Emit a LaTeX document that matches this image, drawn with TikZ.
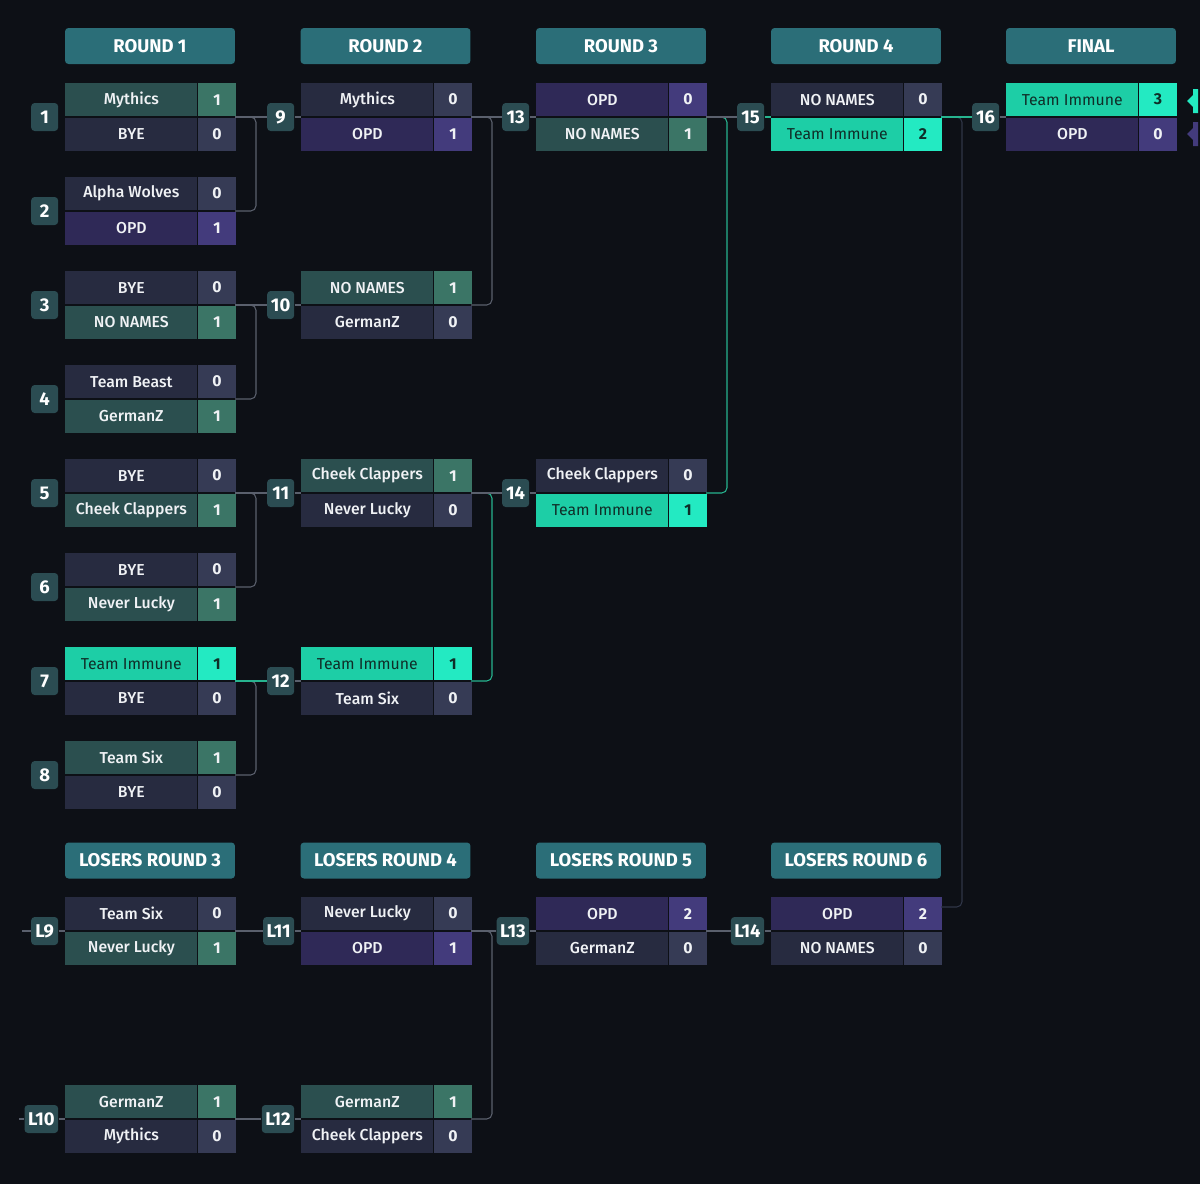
\documentclass[tikz,border=0pt]{standalone}
\usepackage{fontspec}
\setmainfont{Fira Sans}
\newfontfamily\medfont{Fira Sans Medium}
\usetikzlibrary{calc}

\definecolor{bgc}{HTML}{0D1016}
\definecolor{headc}{HTML}{2B6E78}
\definecolor{numc}{HTML}{2B4C52}
\definecolor{textc}{HTML}{F0F2F5}
\definecolor{losea}{HTML}{272B40}
\definecolor{loseb}{HTML}{363B55}
\definecolor{wina}{HTML}{2B4F4F}
\definecolor{winb}{HTML}{3B7566}
\definecolor{opda}{HTML}{2F2957}
\definecolor{opdb}{HTML}{433B7C}
\definecolor{imma}{HTML}{1DCEA6}
\definecolor{immb}{HTML}{23EAC2}
\definecolor{immtext}{HTML}{0F2E28}
\definecolor{linkc}{HTML}{5A606D}
\definecolor{hotc}{HTML}{27B48F}
\definecolor{dimc}{HTML}{2F3547}

\tikzset{
  head/.style={fill=headc, text=white, font=\bfseries\fontsize{10.5}{12}\selectfont,
    minimum width=3.4cm, minimum height=0.72cm, inner sep=0pt, rounded corners=2pt},
  num/.style={fill=numc, text=white, font=\bfseries\fontsize{10.5}{12}\selectfont,
    minimum width=0.54cm, minimum height=0.56cm, inner sep=2pt, rounded corners=2pt, anchor=east},
  tname/.style={minimum width=2.64cm, minimum height=0.66cm, inner sep=0pt,
    text=textc, font=\medfont\fontsize{9}{10}\selectfont},
  tscore/.style={minimum width=0.76cm, minimum height=0.66cm, inner sep=0pt,
    text=textc, font=\bfseries\fontsize{9}{10}\selectfont},
  lose/.style={fill=losea}, lose score/.style={fill=loseb},
  win/.style={fill=wina}, win score/.style={fill=winb},
  opd/.style={fill=opda}, opd score/.style={fill=opdb},
  imm/.style={fill=imma, text=immtext, font=\fontsize{9}{10}\selectfont},
  imm score/.style={fill=immb, text=immtext},
  link/.style={draw=linkc, line width=0.6pt, rounded corners=3pt},
  hot/.style={link, draw=hotc},
  dim/.style={link, draw=dimc},
}

% #1 id, #2 left-centre point, #3 number, #4-#6 top row, #7-#9 bottom row
\newcommand\match[9]{%
  \node[tname,#4,anchor=south west] (#1-a) at ($#2+(0,-0.5)$) {#5};
  \node[tscore,#4 score,anchor=west] (#1-as) at (#1-a.east) {#6};
  \node[tname,#7,anchor=north west] (#1-b) at ($#2+(0,0.5)$) {#8};
  \node[tscore,#7 score,anchor=west] (#1-bs) at (#1-b.east) {#9};
  \node[num] (#1-n) at ($#2+(-6.5,0)$) {#3};
  \coordinate (#1) at ($#2+(170,0)$);
}

\begin{document}
\begin{tikzpicture}[x=0.02cm, y=-0.02cm]
  \fill[bgc] (0,0) rectangle (1200,1184);

  % headers
  \node[head] (h1) at (150,46) {ROUND 1};
  \node[head] (h2) at (385.5,46) {ROUND 2};
  \node[head] (h3) at (621,46) {ROUND 3};
  \node[head] (h4) at (856,46) {ROUND 4};
  \node[head] (h5) at (1091,46) {FINAL};
  \node[head] (lh1) at (150,860.5) {LOSERS ROUND 3};
  \node[head] (lh2) at (385.5,860.5) {LOSERS ROUND 4};
  \node[head] (lh3) at (621,860.5) {LOSERS ROUND 5};
  \node[head] (lh4) at (856,860.5) {LOSERS ROUND 6};

  % round 1
  \match{m1}{(65,117)}{1}{win}{Mythics}{1}{lose}{BYE}{0}
  \match{m2}{(65,211)}{2}{lose}{Alpha Wolves}{0}{opd}{OPD}{1}
  \match{m3}{(65,305)}{3}{lose}{BYE}{0}{win}{NO NAMES}{1}
  \match{m4}{(65,399)}{4}{lose}{Team Beast}{0}{win}{GermanZ}{1}
  \match{m5}{(65,493)}{5}{lose}{BYE}{0}{win}{Cheek Clappers}{1}
  \match{m6}{(65,587)}{6}{lose}{BYE}{0}{win}{Never Lucky}{1}
  \match{m7}{(65,681)}{7}{imm}{Team Immune}{1}{lose}{BYE}{0}
  \match{m8}{(65,775)}{8}{win}{Team Six}{1}{lose}{BYE}{0}
  % round 2
  \match{m9}{(301,117)}{9}{lose}{Mythics}{0}{opd}{OPD}{1}
  \match{m10}{(301,305)}{10}{win}{NO NAMES}{1}{lose}{GermanZ}{0}
  \match{m11}{(301,493)}{11}{win}{Cheek Clappers}{1}{lose}{Never Lucky}{0}
  \match{m12}{(301,681)}{12}{imm}{Team Immune}{1}{lose}{Team Six}{0}
  % round 3, 4, final
  \match{m13}{(536,117)}{13}{opd}{OPD}{0}{win}{NO NAMES}{1}
  \match{m14}{(536,493)}{14}{lose}{Cheek Clappers}{0}{imm}{Team Immune}{1}
  \match{m15}{(771,117)}{15}{lose}{NO NAMES}{0}{imm}{Team Immune}{2}
  \match{m16}{(1006,117)}{16}{imm}{Team Immune}{3}{opd}{OPD}{0}
  % losers bracket
  \match{l9}{(65,931)}{L9}{lose}{Team Six}{0}{win}{Never Lucky}{1}
  \match{l10}{(65,1119)}{L10}{win}{GermanZ}{1}{lose}{Mythics}{0}
  \match{l11}{(301,931)}{L11}{lose}{Never Lucky}{0}{opd}{OPD}{1}
  \match{l12}{(301,1119)}{L12}{win}{GermanZ}{1}{lose}{Cheek Clappers}{0}
  \match{l13}{(536,931)}{L13}{opd}{OPD}{2}{lose}{GermanZ}{0}
  \match{l14}{(771,931)}{L14}{opd}{OPD}{2}{lose}{NO NAMES}{0}

  % winners connectors
  \draw[link] (m1) -- (m1 -| m9-n.west);
  \draw[link] (m2) -- ++(21,0) |- (m1);
  \draw[link] (m3) -- (m3 -| m10-n.west);
  \draw[link] (m4) -- ++(21,0) |- (m3);
  \draw[link] (m5) -- (m5 -| m11-n.west);
  \draw[link] (m6) -- ++(21,0) |- (m5);
  \draw[link] (m8) -- ++(21,0) |- (m7);
  \draw[hot] (m7) -- (m7 -| m12-n.west);
  \draw[link] (m9) -- (m9 -| m13-n.west);
  \draw[link] (m10) -- ++(21,0) |- (m9);
  \draw[hot] (m12) -- ++(21,0) |- (m11);
  \draw[link] (m11) -- (m11 -| m14-n.west);
  \draw[hot] (m14) -- ++(21,0) |- (m13);
  \draw[link] (m13) -- (m13 -| m15-n.west);
  \draw[dim] ($(l14)+(0,-24)$) -- ++(21,0) |- (m15);
  \draw[hot] (m15) -- (m15 -| m16-n.west);
  \draw[hot] (m15-n) -- (m15-n -| m15-a.west);
  \foreach \m in {m9,m10,m11,m12,m13,m14,m16,l9,l10,l11,l12,l13,l14}
    \draw[link] (\m-n) -- (\m-n -| \m-a.west);

  % losers connectors
  \coordinate (l9-in) at (22,931);
  \coordinate (l10-in) at (19,1119);
  \draw[link] (l9-in) -- (l9-n);
  \draw[link] (l10-in) -- (l10-n);
  \draw[link] (l9) -- (l9 -| l11-n.west);
  \draw[link] (l10) -- (l10 -| l12-n.west);
  \draw[link] (l11) -- (l11 -| l13-n.west);
  \draw[link] (l12) -- ++(21,0) |- (l11);
  \draw[link] (l13) -- (l13 -| l14-n.west);

  % side markers of the final
  \fill[immb] (1187,101) -- (1193,95) -- (1193,89) -- (1198,89) -- (1198,113) -- (1193,113) -- (1193,107) -- cycle;
  \fill[opdb] (1187,134) -- (1193,128) -- (1193,122) -- (1198,122) -- (1198,146) -- (1193,146) -- (1193,140) -- cycle;
\end{tikzpicture}
\end{document}
